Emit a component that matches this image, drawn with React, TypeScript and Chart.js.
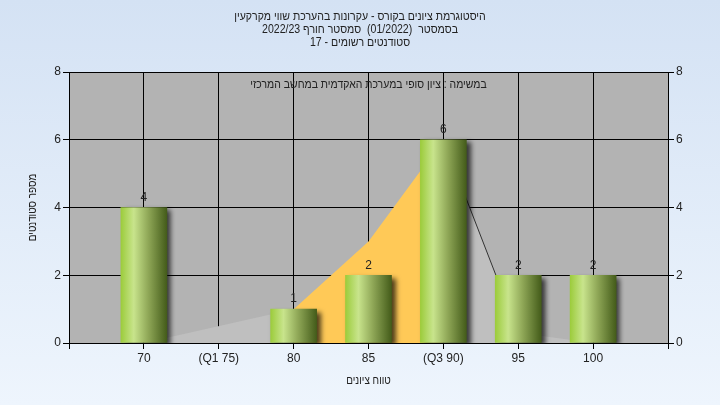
import React, { useEffect, useRef } from "react";
import { Chart, registerables } from "chart.js";

Chart.register(...registerables);

const titleLines = [
  "היסטוגרמת ציונים בקורס - עקרונות בהערכת שווי מקרקעין",
  "בסמסטר  (01/2022)  סמסטר חורף 2022/23",
  "סטודנטים רשומים - 17",
];
const plotNote = "במשימה : ציון סופי במערכת האקדמית במחשב המרכזי";
const xTitle = "טווח ציונים";
const yTitle = "מספר סטודנטים";

const grades = [70, 75, 80, 85, 90, 95, 100];
const gradeLabels = ["70", "(Q1 75)", "80", "85", "(Q3 90)", "95", "100"];
const counts = [4, 0, 1, 2, 6, 2, 2];

const curveX = [70, 80, 85, 90, 95, 100];
const curveY = [0, 1, 3, 6, 0.3, 0];
const curveFill = ["#bfbfbf", "#ffc957", "#ffc957", "#bfbfbf", "#bfbfbf"];
const curveLine = ["rgba(0,0,0,0)", "rgba(0,0,0,0)", "rgba(0,0,0,0)", "#333333", "rgba(0,0,0,0)"];

const FONT = "'Liberation Sans', Arial, sans-serif";

function narrowText(ctx: any, text: string, x: number, y: number, sx: number) {
  ctx.save();
  ctx.translate(x, y);
  ctx.scale(sx, 1);
  ctx.fillText(text, 0, 0);
  ctx.restore();
}

export default function App() {
  const ref = useRef<HTMLCanvasElement | null>(null);

  useEffect(() => {
    if (!ref.current) return;
    Chart.defaults.font.family = FONT;
    Chart.defaults.font.size = 12;
    Chart.defaults.color = "#222";

    const barData = grades
      .map((g, i) => ({ x: g, y: counts[i] }))
      .filter((d) => d.y > 0);
    const curveData = curveX.map((x, i) => ({ x, y: curveY[i] }));

    const decor = {
      id: "decor",
      beforeDraw(chart: any) {
        const { ctx, chartArea: a } = chart;
        ctx.save();
        ctx.fillStyle = "#b3b3b3";
        ctx.fillRect(a.left, a.top, a.right - a.left, a.bottom - a.top);
        ctx.restore();
      },
      beforeDatasetDraw(chart: any, args: any) {
        if (args.index === 0) {
          const ctx = chart.ctx;
          ctx.save();
          ctx.shadowColor = "rgba(0,0,0,0.7)";
          ctx.shadowBlur = 5;
          ctx.shadowOffsetX = 4;
          ctx.shadowOffsetY = 3;
        }
      },
      afterDatasetDraw(chart: any, args: any) {
        if (args.index === 0) chart.ctx.restore();
      },
      afterDraw(chart: any) {
        const { ctx, chartArea: a } = chart;
        ctx.save();
        ctx.font = `12px ${FONT}`;
        ctx.fillStyle = "#222";
        ctx.textAlign = "center";
        ctx.textBaseline = "middle";
        ctx.direction = "rtl";
        titleLines.forEach((t, i) => narrowText(ctx, t, 360, 17 + i * 13, 0.88));
        narrowText(ctx, plotNote, (a.left + a.right) / 2, 85, 0.87);
        narrowText(ctx, xTitle, (a.left + a.right) / 2, 381, 0.83);
        ctx.save();
        ctx.translate(33, (a.top + a.bottom) / 2);
        ctx.rotate(-Math.PI / 2);
        narrowText(ctx, yTitle, 0, 0, 0.82);
        ctx.restore();
        // value labels
        ctx.direction = "ltr";
        ctx.textBaseline = "bottom";
        const meta = chart.getDatasetMeta(0);
        meta.data.forEach((el: any, i: number) => {
          ctx.fillText(String(barData[i].y), el.x, el.y - 4);
        });
        ctx.restore();
      },
    };

    const chart = new Chart(ref.current, {
      type: "bar",
      data: {
        datasets: [
          {
            type: "bar",
            data: barData as any,
            order: 1,
            barThickness: 46,
            borderWidth: 0,
            backgroundColor: (c: any) => {
              const chart = c.chart;
              if (!chart.chartArea || !c.raw) return "#a0c860";
              const cx = chart.scales.x.getPixelForValue(c.raw.x);
              const g = chart.ctx.createLinearGradient(cx - 23, 0, cx + 23, 0);
              g.addColorStop(0, "#9ccc3c");
              g.addColorStop(0.28, "#c8e48c");
              g.addColorStop(0.6, "#8ea656");
              g.addColorStop(1, "#445c1a");
              return g;
            },
          },
          {
            type: "line",
            data: curveData as any,
            order: 2,
            fill: "origin",
            pointRadius: 0,
            tension: 0,
            borderWidth: 1,
            borderColor: "rgba(0,0,0,0)",
            backgroundColor: "#bfbfbf",
            segment: {
              backgroundColor: (s: any) => curveFill[s.p0DataIndex],
              borderColor: (s: any) => curveLine[s.p0DataIndex],
            },
          } as any,
        ],
      },
      options: {
        responsive: true,
        maintainAspectRatio: false,
        animation: false,
        layout: { padding: { top: 72, left: 0, right: 0, bottom: 0 } },
        plugins: {
          legend: { display: false },
          tooltip: { enabled: false },
          title: { display: false },
        },
        scales: {
          x: {
            type: "linear",
            min: 65,
            max: 105,
            offset: false,
            afterFit: (s: any) => {
              s.height = 62;
            },
            grid: {
              color: "#000",
              lineWidth: 1,
              tickLength: 6,
              tickColor: "#000",
              offset: false,
            },
            border: { color: "#000" },
            ticks: {
              stepSize: 5,
              autoSkip: false,
              maxRotation: 0,
              padding: 2,
              color: "#222",
              callback: (v: any) => {
                const i = grades.indexOf(Number(v));
                return i >= 0 ? gradeLabels[i] : "";
              },
            },
          },
          y: {
            position: "left",
            min: 0,
            max: 8,
            afterFit: (s: any) => {
              s.width = 69;
            },
            grid: { color: "#000", lineWidth: 1, tickLength: 6, tickColor: "#000" },
            border: { color: "#000" },
            ticks: { stepSize: 2, padding: 2, color: "#222" },
          },
          y2: {
            position: "right",
            min: 0,
            max: 8,
            afterFit: (s: any) => {
              s.width = 52;
            },
            grid: { drawOnChartArea: false, tickLength: 6, tickColor: "#000" },
            border: { color: "#000" },
            ticks: { stepSize: 2, padding: 2, color: "#222" },
          },
        },
      },
      plugins: [decor],
    } as any);

    return () => chart.destroy();
  }, []);

  return (
    <div
      style={{
        position: "absolute",
        left: 0,
        top: 0,
        width: 720,
        height: 405,
        background: "linear-gradient(#d4e2f4, #eef5fd)",
      }}
    >
      <canvas ref={ref} />
    </div>
  );
}
